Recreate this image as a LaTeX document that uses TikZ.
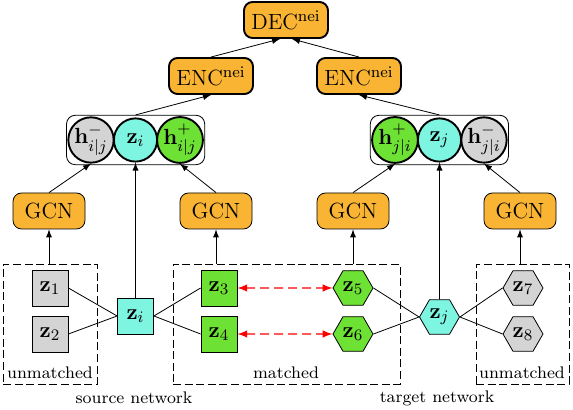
\documentclass[tikz,border=0pt]{standalone}
\usepackage{amsmath}
\usepackage{amssymb}
\usepackage{tikz}
\usetikzlibrary{backgrounds,fit,shapes.geometric,arrows}

\definecolor{modorange}{RGB}{249,180,52}
\definecolor{selfcyan}{RGB}{125,245,225}
\definecolor{matchgreen}{RGB}{110,226,52}
\definecolor{unmgray}{RGB}{212,212,212}

\newcommand{\hup}[1]{^{\raisebox{1.2pt}{$\scriptstyle #1$}}}

\begin{document}
\begin{tikzpicture}[line width=0.95pt,x=0.5pt,y=-0.5pt,>=latex]
    % `module' is used for the GCN, ENC and DEC boxes.
    % `srcnode' is a node of the source network, `tgtnode' of the target one.
    % `hcircle' is used for the stacked embeddings.
    \tikzstyle{module} = [draw,fill=modorange,rounded corners=1.5mm,minimum height=18pt,inner sep=2pt,font=\fontsize{11}{13}\selectfont]
    \tikzstyle{srcnode} = [draw,minimum size=18pt,inner sep=0pt,font=\fontsize{11}{13}\selectfont]
    \tikzstyle{tgtnode} = [draw,regular polygon,regular polygon sides=6,minimum size=20pt,inner sep=0pt,font=\fontsize{11}{13}\selectfont]
    \tikzstyle{hcircle} = [draw,circle,minimum size=21.6pt,inner sep=0pt,font=\fontsize{11}{13}\selectfont]
    \tikzstyle{stack} = [draw,rounded corners=1.5mm,inner sep=0.4pt]
    \tikzstyle{region} = [draw,dash pattern=on 4pt off 1.8pt]
    \tikzstyle{caption} = [font=\fontsize{8.4}{10}\selectfont]
    \tikzstyle{anchorlink} = [<->,red,line width=0.7pt,dash pattern=on 4.5pt off 2.5pt]
    \useasboundingbox (0,0) rectangle (573,410);
    %
    \node[module,minimum width=42pt] (dec) at (286,20) {DEC$^{\mathrm{nei}}$};
    \node[module,minimum width=42pt] (encL) at (211,76) {ENC$^{\mathrm{nei}}$};
    \node[module,minimum width=42pt] (encR) at (359,76) {ENC$^{\mathrm{nei}}$};

    \node[hcircle,fill=unmgray] (hmi) at (91,140) {$\mathbf{h}^{-}_{i|j}$};
    \node[hcircle,fill=selfcyan] (czi) at (135.5,140) {$\mathbf{z}_i$};
    \node[hcircle,fill=matchgreen] (hpi) at (180,140) {$\mathbf{h}\hup{+}_{i|j}$};
    \node[hcircle,fill=matchgreen] (hpj) at (395,140) {$\mathbf{h}\hup{+}_{j|i}$};
    \node[hcircle,fill=selfcyan] (czj) at (439.5,140) {$\mathbf{z}_j$};
    \node[hcircle,fill=unmgray] (hmj) at (484,140) {$\mathbf{h}^{-}_{j|i}$};
    \begin{pgfonlayer}{background}
      \node[stack,fit=(hmi) (czi) (hpi)] (stackI) {};
      \node[stack,fit=(hpj) (czj) (hmj)] (stackJ) {};
    \end{pgfonlayer}

    \node[module,minimum width=36pt] (gcnA) at (49,211) {GCN};
    \node[module,minimum width=36pt] (gcnB) at (216,211) {GCN};
    \node[module,minimum width=36pt] (gcnC) at (353,211) {GCN};
    \node[module,minimum width=36pt] (gcnD) at (520,211) {GCN};

    % regions of the two networks
    \node[region,minimum width=47pt,minimum height=60pt] (boxL) at (50,324) {};
    \node[region,minimum width=113.5pt,minimum height=60pt] (boxM) at (286.5,324) {};
    \node[region,minimum width=46.5pt,minimum height=60pt] (boxR) at (522.5,324) {};
    \node[caption] (capL) at (50,373) {unmatched};
    \node[caption] (capM) at (286,373) {matched};
    \node[caption] (capR) at (522,373) {unmatched};
    \node[caption] (srcname) at (134,398) {source network};
    \node[caption] (tgtname) at (437,398) {target network};

    \node[srcnode,fill=unmgray] (z1) at (50,288) {$\mathbf{z}_1$};
    \node[srcnode,fill=unmgray] (z2) at (50,334) {$\mathbf{z}_2$};
    \node[srcnode,fill=selfcyan] (zi) at (135.5,316) {$\mathbf{z}_i$};
    \node[srcnode,fill=matchgreen] (z3) at (219,288) {$\mathbf{z}_3$};
    \node[srcnode,fill=matchgreen] (z4) at (219,334) {$\mathbf{z}_4$};

    \node[tgtnode,fill=matchgreen] (z5) at (353,288) {$\mathbf{z}_5$};
    \node[tgtnode,fill=matchgreen] (z6) at (353,334) {$\mathbf{z}_6$};
    \node[tgtnode,fill=selfcyan] (zj) at (439.5,317) {$\mathbf{z}_j$};
    \node[tgtnode,fill=unmgray] (z7) at (523,288) {$\mathbf{z}_7$};
    \node[tgtnode,fill=unmgray] (z8) at (523,334) {$\mathbf{z}_8$};

    % edges
    \draw (z1.east) -- (zi.west)  (z2.east) -- (zi.west)
          (zi.east) -- (z3.west)  (zi.east) -- (z4.west);
    \draw (z5.east) -- (zj.west)  (z6.east) -- (zj.west)
          (zj.east) -- (z7.west)  (zj.east) -- (z8.west);
    \draw[anchorlink] (z3.east) -- (z5.west);
    \draw[anchorlink] (z4.east) -- (z6.west);

    % arrows up
    \draw[->] (gcnA |- boxL.north) -- (gcnA.south);
    \draw[->] (gcnB |- boxM.north) -- (gcnB.south);
    \draw[->] (gcnC |- boxM.north) -- (gcnC.south);
    \draw[->] (gcnD |- boxR.north) -- (gcnD.south);
    \draw[->] (gcnA.north) -- (hmi.south);
    \draw[->] (gcnB.north) -- (hpi.south);
    \draw[->] (gcnC.north) -- (hpj.south);
    \draw[->] (gcnD.north) -- (hmj.south);
    \draw[->] (zi.north) -- (czi.south);
    \draw[->] (zj.north) -- (czj.south);
    \draw[->] (stackI.north) -- (encL.south);
    \draw[->] (stackJ.north) -- (encR.south);
    \draw[->] (encL.north) -- ([xshift=-3pt]dec.south);
    \draw[->] (encR.north) -- ([xshift=3pt]dec.south);
\end{tikzpicture}
\end{document}
